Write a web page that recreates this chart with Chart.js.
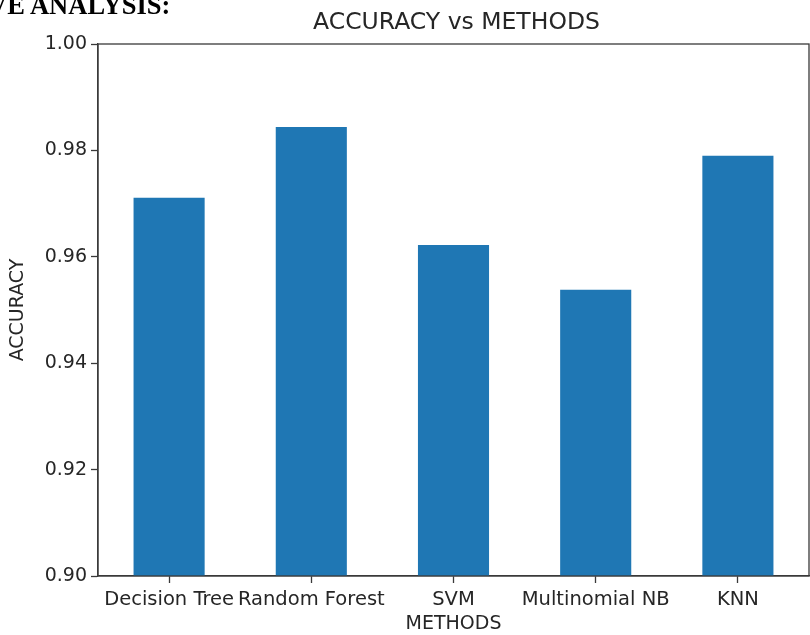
<!DOCTYPE html>
<html>
<head>
<meta charset="utf-8">
<script src="https://cdn.jsdelivr.net/npm/chart.js@4"></script>
<style>
    html, body { margin: 0; padding: 0; background: #fff; overflow: hidden; }
    #wrap { position: relative; width: 810px; height: 635px; }
    #cabecalho {
        position: absolute; left: -12px; top: -8px;
        font-family: "Liberation Serif", "Times New Roman", serif;
        font-weight: bold; font-size: 26.5px; line-height: 26px;
        color: #000; white-space: nowrap;
    }
    canvas { position: absolute; left: 0; top: 0; }
</style>
</head>
<body>
<div id="wrap">
    <canvas id="grafico" width="810" height="635"></canvas>
    <div id="cabecalho">VE ANALYSIS:</div>
</div>
<script>
// ================= DADOS =================
const metodos = ["Decision Tree", "Random Forest", "SVM", "Multinomial NB", "KNN"]
const acuracias = [0.9711, 0.9844, 0.9622, 0.9538, 0.9790]
const ticksY = [0.90, 0.92, 0.94, 0.96, 0.98, 1.00]
const tituloGrafico = "ACCURACY vs METHODS"

const corTexto = "#262626"
const corEixo = "#3a3a3a"
const fonte = "'DejaVu Sans', sans-serif"

// moldura completa + título centrado sobre a área do gráfico (estilo matplotlib)
const moldura = {
    id: "moldura",
    afterDraw(chart) {
        const { ctx, chartArea: a } = chart
        ctx.save()
        ctx.strokeStyle = corEixo
        ctx.lineWidth = 1.3
        ctx.strokeRect(a.left, a.top, a.right - a.left, a.bottom - a.top)

        ctx.fillStyle = corTexto
        ctx.font = "23.5px " + fonte
        ctx.textAlign = "center"
        ctx.textBaseline = "alphabetic"
        ctx.fillText(tituloGrafico, (a.left + a.right) / 2 + 3, 29)
        ctx.restore()
    }
}

new Chart(document.getElementById("grafico"), {
    type: "bar",
    data: {
        labels: metodos,
        datasets: [{
            data: acuracias,
            backgroundColor: "#1f77b4",
            borderWidth: 0,
            barPercentage: 0.5,
            categoryPercentage: 1.0
        }]
    },
    options: {
        responsive: false,
        animation: false,
        layout: { padding: { top: 44, right: 1, bottom: 0, left: 0 } },
        plugins: {
            legend: { display: false },
            tooltip: { enabled: false },
            title: { display: false }
        },
        scales: {
            x: {
                afterFit: s => { s.height = 59 },
                grid: { display: true, drawOnChartArea: false, offset: false, tickLength: 7, tickColor: corEixo, tickWidth: 1.3 },
                border: { color: corEixo, width: 1.3 },
                ticks: {
                    autoSkip: false, maxRotation: 0, minRotation: 0, padding: 5,
                    color: corTexto, font: { family: fonte, size: 19.5 }
                },
                title: {
                    display: true, text: "METHODS", color: corTexto,
                    font: { family: fonte, size: 19 }, padding: { top: 0, bottom: 0 }
                }
            },
            y: {
                min: 0.90,
                max: 1.00,
                afterFit: s => { s.width = 98 },
                afterBuildTicks: s => { s.ticks = ticksY.map(v => ({ value: v })) },
                grid: { display: true, drawOnChartArea: false, tickLength: 7, tickColor: corEixo, tickWidth: 1.3 },
                border: { color: corEixo, width: 1.3 },
                ticks: {
                    padding: 4,
                    color: corTexto, font: { family: fonte, size: 19 },
                    callback: v => Number(v).toFixed(2)
                },
                title: {
                    display: true, text: "ACCURACY", color: corTexto,
                    font: { family: fonte, size: 19 }, padding: { top: 7, bottom: 0 }
                }
            }
        }
    },
    plugins: [moldura]
})
</script>
</body>
</html>
